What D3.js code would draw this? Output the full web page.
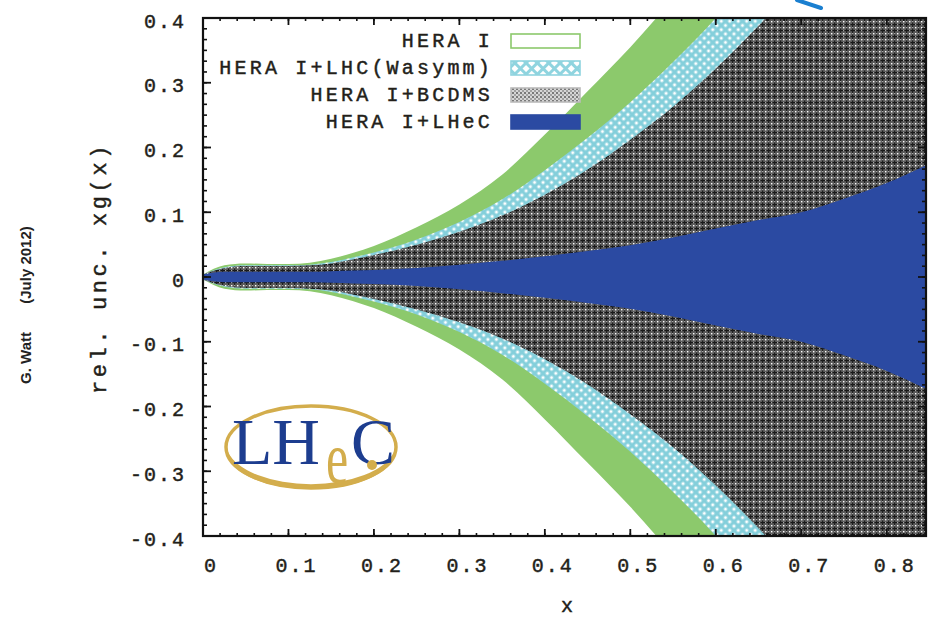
<!DOCTYPE html>
<html>
<head>
<meta charset="utf-8">
<script src="https://cdn.jsdelivr.net/npm/d3@7"></script>
<style>
  html, body { margin: 0; padding: 0; background: #fff; }
  svg { display: block; }
</style>
</head>
<body>
<svg id="chart" width="928" height="617"></svg>
<script>
// ---------------- data (half-widths of the relative uncertainty bands of xg(x)) ----------------
const xs        = [0, 0.025, 0.05, 0.075, 0.1, 0.125, 0.15, 0.175, 0.2, 0.25, 0.3, 0.35, 0.4, 0.45, 0.5, 0.55, 0.6, 0.65, 0.7, 0.75, 0.8, 0.85];
const heraI     = [0.004, 0.018, 0.021, 0.020, 0.020, 0.022, 0.028, 0.037, 0.048, 0.077, 0.112, 0.158, 0.220, 0.287, 0.355, 0.43, 0.51, 0.59, 0.67, 0.75, 0.83, 0.91];
const heraLHC   = [0.004, 0.015, 0.018, 0.018, 0.018, 0.019, 0.023, 0.030, 0.038, 0.058, 0.085, 0.120, 0.165, 0.215, 0.270, 0.332, 0.400, 0.48, 0.56, 0.64, 0.72, 0.80];
const heraBCDMS = [0.004, 0.014, 0.017, 0.017, 0.017, 0.018, 0.021, 0.027, 0.034, 0.050, 0.070, 0.095, 0.127, 0.166, 0.212, 0.263, 0.322, 0.388, 0.46, 0.54, 0.62, 0.70];
const heraLHeC  = [0.004, 0.008, 0.008, 0.008, 0.008, 0.008, 0.009, 0.010, 0.011, 0.014, 0.019, 0.025, 0.032, 0.040, 0.049, 0.061, 0.075, 0.088, 0.100, 0.121, 0.145, 0.175];

const seriesNames = ["HERA I", "HERA I+LHC(Wasymm)", "HERA I+BCDMS", "HERA I+LHeC"];
const xTicks = [0, 0.1, 0.2, 0.3, 0.4, 0.5, 0.6, 0.7, 0.8];
const xTickLabels = ["0", "0.1", "0.2", "0.3", "0.4", "0.5", "0.6", "0.7", "0.8"];
const yTicks = [-0.4, -0.3, -0.2, -0.1, 0, 0.1, 0.2, 0.3, 0.4];
const yTickLabels = ["-0.4", "-0.3", "-0.2", "-0.1", "0", "0.1", "0.2", "0.3", "0.4"];

// ---------------- layout ----------------
const L = 203, R = 926, T = 18, B = 536;
const svg = d3.select("#chart");
const x = d3.scaleLinear().domain([0, 0.846]).range([L, R]);
const y = d3.scaleLinear().domain([-0.4, 0.4]).range([B, T]);

const defs = svg.append("defs");
defs.append("clipPath").attr("id", "plotClip")
  .append("rect").attr("x", L).attr("y", T).attr("width", R - L).attr("height", B - T);

// cyan crosshatch pattern (band)
const pc = defs.append("pattern").attr("id", "cyanPat").attr("patternUnits", "userSpaceOnUse")
  .attr("width", 6).attr("height", 6).attr("patternTransform", "rotate(45)");
pc.append("rect").attr("width", 6).attr("height", 6).attr("fill", "#84cfdb");
pc.append("rect").attr("x", 1.6).attr("y", 1.6).attr("width", 2.8).attr("height", 2.8).attr("fill", "#ffffff");
// cyan pattern (legend)
const pcl = defs.append("pattern").attr("id", "cyanLeg").attr("patternUnits", "userSpaceOnUse")
  .attr("width", 8).attr("height", 8).attr("patternTransform", "rotate(45)");
pcl.append("rect").attr("width", 8).attr("height", 8).attr("fill", "#8fd4df");
pcl.append("rect").attr("x", 2).attr("y", 2).attr("width", 5).attr("height", 5).attr("fill", "#ffffff");

// gray checker pattern (band)
const pg = defs.append("pattern").attr("id", "grayPat").attr("patternUnits", "userSpaceOnUse")
  .attr("width", 6).attr("height", 6);
pg.append("rect").attr("width", 6).attr("height", 6).attr("fill", "#5e5e5e");
pg.append("rect").attr("width", 6).attr("height", 1.2).attr("fill", "#141414");
pg.append("rect").attr("width", 1.2).attr("height", 6).attr("fill", "#1e1e1e");
pg.append("rect").attr("x", 3).attr("y", 3).attr("width", 1.4).attr("height", 1.4).attr("fill", "#ffffff");
pg.append("rect").attr("x", 3.2).attr("y", 0).attr("width", 1).attr("height", 1.2).attr("fill", "#c8c8c8");
pg.append("rect").attr("x", 0).attr("y", 3.2).attr("width", 1.2).attr("height", 1).attr("fill", "#c8c8c8");
// gray pattern (legend, lighter)
const pgl = defs.append("pattern").attr("id", "grayLeg").attr("patternUnits", "userSpaceOnUse")
  .attr("width", 4).attr("height", 4);
pgl.append("rect").attr("width", 4).attr("height", 4).attr("fill", "#d6d6d6");
pgl.append("rect").attr("width", 2).attr("height", 2).attr("fill", "#7a7a7a");
pgl.append("rect").attr("x", 2).attr("y", 2).attr("width", 2).attr("height", 2).attr("fill", "#a0a0a0");

// ---------------- bands ----------------
const bands = [
  { w: heraI,     fill: "#8cc96c" },
  { w: heraLHC,   fill: "url(#cyanPat)" },
  { w: heraBCDMS, fill: "url(#grayPat)" },
  { w: heraLHeC,  fill: "#2b4aa2" }
];
const area = d3.area()
  .x((d, i) => x(xs[i]))
  .y0(d => y(-d))
  .y1(d => y(d))
  .curve(d3.curveMonotoneX);
const gBands = svg.append("g").attr("clip-path", "url(#plotClip)");
bands.forEach(b => {
  gBands.append("path").datum(b.w).attr("d", area).attr("fill", b.fill);
});

// ---------------- frame & ticks ----------------
const gAx = svg.append("g");
const minorX = d3.range(0, 0.8461, 0.02);
const minorY = d3.range(-0.4, 0.4001, 0.1 / 6);
minorX.forEach(v => {
  const px = x(v);
  gAx.append("line").attr("x1", px).attr("x2", px).attr("y1", B).attr("y2", B - 3).attr("stroke", "#111").attr("stroke-width", 1.6);
  gAx.append("line").attr("x1", px).attr("x2", px).attr("y1", T).attr("y2", T + 3).attr("stroke", "#111").attr("stroke-width", 1.6);
});
minorY.forEach(v => {
  const py = y(v);
  gAx.append("line").attr("x1", L).attr("x2", L + 4).attr("y1", py).attr("y2", py).attr("stroke", "#111").attr("stroke-width", 1.6);
  gAx.append("line").attr("x1", R).attr("x2", R - 4).attr("y1", py).attr("y2", py).attr("stroke", "#111").attr("stroke-width", 1.6);
});
xTicks.forEach(v => {
  const px = x(v);
  gAx.append("line").attr("x1", px).attr("x2", px).attr("y1", B).attr("y2", B - 7).attr("stroke", "#111").attr("stroke-width", 1.8);
  gAx.append("line").attr("x1", px).attr("x2", px).attr("y1", T).attr("y2", T + 7).attr("stroke", "#111").attr("stroke-width", 1.8);
});
yTicks.forEach(v => {
  const py = y(v);
  gAx.append("line").attr("x1", L).attr("x2", L + 8).attr("y1", py).attr("y2", py).attr("stroke", "#111").attr("stroke-width", 1.8);
  gAx.append("line").attr("x1", R).attr("x2", R - 8).attr("y1", py).attr("y2", py).attr("stroke", "#111").attr("stroke-width", 1.8);
});
gAx.append("rect").attr("x", L).attr("y", T).attr("width", R - L).attr("height", B - T)
  .attr("fill", "none").attr("stroke", "#111").attr("stroke-width", 2.2);

// text helper
const monoFont = "'Liberation Mono', 'DejaVu Sans Mono', monospace";
function monoText(sel, size, ls) {
  return sel.attr("font-family", monoFont).attr("font-size", size).attr("letter-spacing", ls)
    .attr("fill", "#231f1a").attr("stroke", "#231f1a").attr("stroke-width", 0.45)
    .attr("dominant-baseline", "central");
}

// tick labels
xTicks.forEach((v, i) => {
  monoText(svg.append("text").attr("x", x(v) + 8).attr("y", 566).attr("text-anchor", "middle"), 20, 2)
    .text(xTickLabels[i]);
});
yTicks.forEach((v, i) => {
  monoText(svg.append("text").attr("x", 186).attr("y", y(v) + 4).attr("text-anchor", "end"), 20, 2)
    .text(yTickLabels[i]);
});

// axis titles
monoText(svg.append("text").attr("x", 567).attr("y", 606).attr("text-anchor", "middle"), 20, 0).text("x");
monoText(svg.append("text").attr("transform", "translate(100,268) rotate(-90)").attr("text-anchor", "middle"), 22, 3.6)
  .text("rel. unc. xg(x)");

// author stamp
svg.append("text").attr("transform", "translate(25,265) rotate(-90)")
  .attr("text-anchor", "middle").attr("dominant-baseline", "central")
  .attr("font-family", "'Liberation Sans', Arial, sans-serif").attr("font-weight", "bold")
  .attr("font-size", 15).attr("fill", "#222").text("(July 2012)");
svg.append("text").attr("transform", "translate(25,358) rotate(-90)")
  .attr("text-anchor", "middle").attr("dominant-baseline", "central")
  .attr("font-family", "'Liberation Sans', Arial, sans-serif").attr("font-weight", "bold")
  .attr("font-size", 15).attr("fill", "#222").text("G. Watt");

// ---------------- legend ----------------
const legY = [41, 68, 95, 122];
const legFill = ["#ffffff", "url(#cyanLeg)", "url(#grayLeg)", "#2b4aa2"];
const legStroke = ["#8cc96c", "#8fd4df", "#bbbbbb", "#2b4aa2"];
seriesNames.forEach((name, i) => {
  svg.append("rect").attr("x", 511).attr("y", legY[i] - 7).attr("width", 69).attr("height", 14)
    .attr("fill", legFill[i]).attr("stroke", legStroke[i]).attr("stroke-width", 1.6);
  monoText(svg.append("text").attr("x", 493).attr("y", legY[i]).attr("text-anchor", "end"), 20, 3.2)
    .text(name);
});

// ---------------- LHeC logo ----------------
const logo = svg.append("g");
logo.append("ellipse").attr("cx", 311).attr("cy", 447).attr("rx", 85).attr("ry", 41)
  .attr("fill", "none").attr("stroke", "#d3ad4c").attr("stroke-width", 3.5);
logo.append("path")
  .attr("d", "M 228 452 A 85 41 0 0 0 394 452 A 83 37 0 0 1 228 452 Z")
  .attr("fill", "#d3ad4c");
logo.append("text").attr("x", 232).attr("y", 464)
  .attr("font-family", "'Liberation Serif', 'DejaVu Serif', serif").attr("font-size", 66)
  .attr("fill", "#1d3d8f").text("LH");
logo.append("text").attr("transform", "translate(326,483) scale(1,1.5)")
  .attr("font-family", "'Liberation Serif', 'DejaVu Serif', serif").attr("font-size", 50)
  .attr("fill", "#d3ad4c").text("e");
logo.append("text").attr("x", 351).attr("y", 464)
  .attr("font-family", "'Liberation Serif', 'DejaVu Serif', serif").attr("font-size", 66)
  .attr("fill", "#1d3d8f").text("C");
logo.append("circle").attr("cx", 372).attr("cy", 465).attr("r", 5).attr("fill", "#d3ad4c");

// stray annotation stroke at top
svg.append("line").attr("x1", 797).attr("y1", 0).attr("x2", 821).attr("y2", 8)
  .attr("stroke", "#1a7fd0").attr("stroke-width", 4).attr("stroke-linecap", "round");
</script>
</body>
</html>
